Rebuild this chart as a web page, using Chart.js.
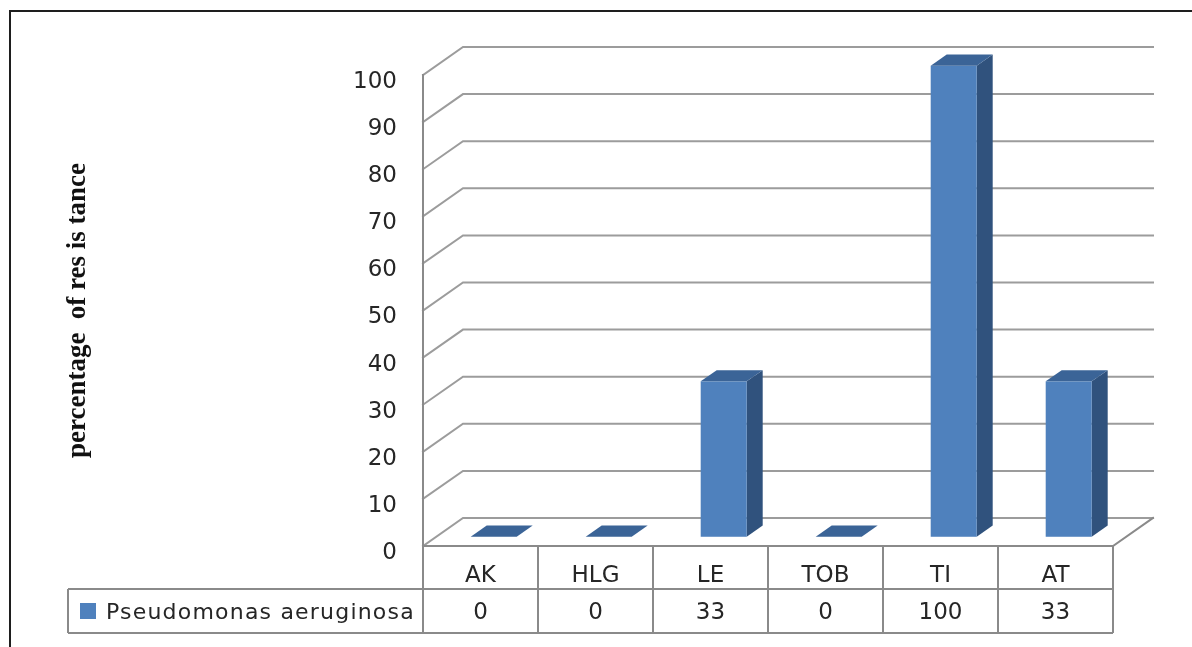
<!DOCTYPE html>
<html>
<head>
<meta charset="utf-8">
<script src="https://cdn.jsdelivr.net/npm/chart.js@4.4.0/dist/chart.umd.min.js"></script>
<style>
  html, body { margin: 0; padding: 0; background: #fff; overflow: hidden; }
  #wrap { position: relative; width: 1192px; height: 647px; }
  canvas { display: block; }
</style>
</head>
<body>
<div id="wrap"><canvas id="c" width="1192" height="647"></canvas></div>
<script>
// Antibiotic resistance (%) per agent
const categories = ['AK', 'HLG', 'LE', 'TOB', 'TI', 'AT'];
const resistance = [0, 0, 33, 0, 100, 33];
const seriesName = 'Pseudomonas aeruginosa';
const yTicks = [0, 10, 20, 30, 40, 50, 60, 70, 80, 90, 100];
const axisTitle = 'percentage  of res is tance';

// 3D look: offset of the back wall relative to the front plane
const DEPTH = { x: 40, y: -28 };
const BAR_FRONT = 0.33;   // fraction of depth where bar front faces sit
const BAR_BACK = 0.73;    // fraction of depth where bar back faces sit

const COLORS = {
  front: '#4f81bd',
  side: '#30527d',
  top: '#3b6497',
  grid: '#9c9c9c',
  frame: '#8a8a8a',
  text: '#262626'
};
const UI_FONT = '"DejaVu Sans", Verdana, sans-serif';
const UI_SIZE = 23;
const TABLE_ROW1 = 43;
const TABLE_ROW2 = 44;
const LEGEND_LEFT = 68;

const walls3d = {
  id: 'walls3d',
  beforeDatasetsDraw(chart) {
    const { ctx, chartArea: a, scales: { y } } = chart;
    ctx.save();
    ctx.lineCap = 'square';
    ctx.strokeStyle = COLORS.grid;
    ctx.lineWidth = 2;
    yTicks.forEach(v => {
      const py = y.getPixelForValue(v);
      ctx.beginPath();
      ctx.moveTo(a.left, py);
      ctx.lineTo(a.left + DEPTH.x, py + DEPTH.y);
      ctx.lineTo(a.right + DEPTH.x, py + DEPTH.y);
      ctx.stroke();
    });
    const base = y.getPixelForValue(0);
    ctx.strokeStyle = COLORS.frame;
    ctx.beginPath();
    // front edge of the side wall (value axis line)
    ctx.moveTo(a.left, y.getPixelForValue(100));
    ctx.lineTo(a.left, base + TABLE_ROW1 + TABLE_ROW2);
    // floor front and right edges
    ctx.moveTo(a.left, base);
    ctx.lineTo(a.right, base);
    ctx.lineTo(a.right + DEPTH.x, base + DEPTH.y);
    ctx.stroke();
    ctx.restore();
  },
  afterDatasetsDraw(chart) {
    const { ctx } = chart;
    const meta = chart.getDatasetMeta(0);
    ctx.save();
    meta.data.forEach(bar => {
      const { x, y: top, base, width } = bar.getProps(['x', 'y', 'base', 'width'], true);
      const l = x - width / 2, r = x + width / 2;
      const fx = DEPTH.x * BAR_FRONT, fy = DEPTH.y * BAR_FRONT;
      const bx = DEPTH.x * BAR_BACK, by = DEPTH.y * BAR_BACK;
      const h = base - top;
      if (h > 0.5) {
        // side face
        ctx.fillStyle = COLORS.side;
        ctx.beginPath();
        ctx.moveTo(r + fx, top + fy);
        ctx.lineTo(r + bx, top + by);
        ctx.lineTo(r + bx, base + by);
        ctx.lineTo(r + fx, base + fy);
        ctx.closePath();
        ctx.fill();
        // front face
        ctx.fillStyle = COLORS.front;
        ctx.fillRect(l + fx, top + fy, width, h);
      }
      // top face
      ctx.fillStyle = COLORS.top;
      ctx.beginPath();
      ctx.moveTo(l + fx, top + fy);
      ctx.lineTo(r + fx, top + fy);
      ctx.lineTo(r + bx, top + by);
      ctx.lineTo(l + bx, top + by);
      ctx.closePath();
      ctx.fill();
    });
    ctx.restore();
  },
  afterDraw(chart) {
    const { ctx, chartArea: a, scales: { x, y } } = chart;
    const base = y.getPixelForValue(0);
    const r1 = base + TABLE_ROW1, r2 = r1 + TABLE_ROW2;
    const step = (a.right - a.left) / categories.length;
    ctx.save();
    // outer frame
    ctx.strokeStyle = '#1e1e1e';
    ctx.lineWidth = 2;
    ctx.strokeRect(10, 11, 1300, 900);

    // data table grid
    ctx.strokeStyle = COLORS.frame;
    ctx.lineWidth = 2;
    ctx.beginPath();
    ctx.moveTo(LEGEND_LEFT, r1); ctx.lineTo(a.right, r1);
    ctx.moveTo(LEGEND_LEFT, r2); ctx.lineTo(a.right, r2);
    ctx.moveTo(LEGEND_LEFT, r1); ctx.lineTo(LEGEND_LEFT, r2);
    categories.forEach((c, i) => {
      const cx = x.getPixelForValue(i) + step / 2;
      ctx.moveTo(cx, base); ctx.lineTo(cx, r2);
    });
    ctx.stroke();

    // category names and values
    ctx.fillStyle = COLORS.text;
    ctx.font = UI_SIZE + 'px ' + UI_FONT;
    ctx.textAlign = 'center';
    ctx.textBaseline = 'middle';
    categories.forEach((c, i) => {
      const cx = x.getPixelForValue(i);
      ctx.fillText(c, cx, base + 30);
      ctx.fillText(String(resistance[i]), cx, r1 + 24);
    });

    // legend key inside the table
    const ds = chart.data.datasets[0];
    ctx.fillStyle = COLORS.front;
    ctx.fillRect(80, r1 + 14, 16, 16);
    ctx.fillStyle = COLORS.text;
    ctx.textAlign = 'left';
    ctx.font = '22px ' + UI_FONT;
    ctx.letterSpacing = '1.2px';
    ctx.fillText(ds.label, 106, r1 + 24);
    ctx.restore();
  }
};

new Chart(document.getElementById('c'), {
  type: 'bar',
  data: {
    labels: categories,
    datasets: [{
      label: seriesName,
      data: resistance,
      backgroundColor: 'rgba(0,0,0,0)',
      borderWidth: 0,
      barPercentage: 0.4,
      categoryPercentage: 1
    }]
  },
  options: {
    responsive: false,
    animation: false,
    devicePixelRatio: 1,
    layout: { padding: { top: 75, right: 79, bottom: 101, left: 0 } },
    plugins: {
      legend: { display: false },
      tooltip: { enabled: false },
      title: { display: false }
    },
    scales: {
      x: { display: false },
      y: {
        min: 0,
        max: 100,
        afterBuildTicks: s => { s.ticks = yTicks.map(v => ({ value: v })); },
        afterFit: s => { s.width = 423; },
        grid: { display: false, drawTicks: false },
        border: { display: false },
        ticks: {
          padding: 26,
          labelOffset: 7,
          color: COLORS.text,
          font: { family: UI_FONT, size: UI_SIZE }
        },
        title: {
          display: true,
          text: axisTitle,
          color: '#111',
          padding: { top: 62, bottom: 0 },
          font: { family: '"Liberation Serif", "Times New Roman", serif', size: 27, weight: 'bold' }
        }
      }
    }
  },
  plugins: [walls3d]
});
</script>
</body>
</html>
